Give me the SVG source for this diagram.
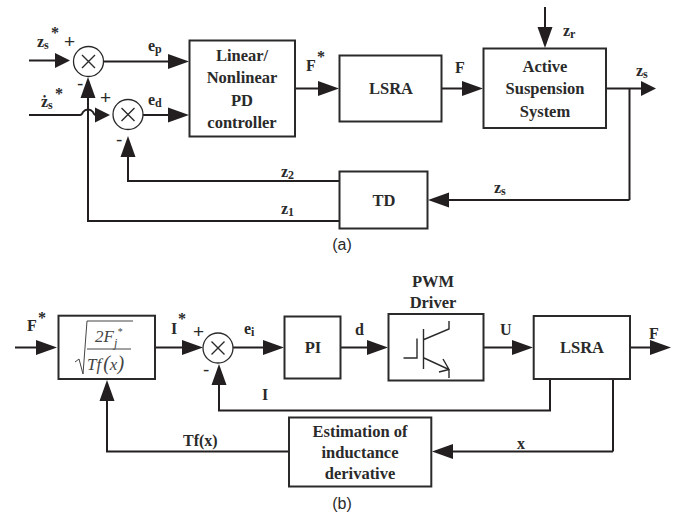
<svg xmlns="http://www.w3.org/2000/svg" width="684" height="521" viewBox="0 0 684 521">
<style>
.b{fill:#fff;stroke:#2a2a2a;stroke-width:2}
.s{fill:#fff;stroke:#2a2a2a;stroke-width:1.3}
.x{fill:none;stroke:#2a2a2a;stroke-width:1.4}
.c path{fill:none;stroke:#231f20;stroke-width:2}
.c path.a{marker-end:url(#big)}
.c path.m{marker-end:url(#small)}
text{font-family:"Liberation Serif","Times New Roman",serif;font-weight:bold;font-size:16px;fill:#2a2a2a}
.t{text-anchor:middle;font-size:16.5px}
.p{font-size:19px;font-weight:normal;font-family:"Liberation Sans",Arial,sans-serif}
.cap{font-family:"Liberation Sans",Arial,sans-serif;font-weight:normal;font-size:16px;text-anchor:middle}
.sb{font-size:12px}
.i{font-weight:normal;font-style:italic;font-size:17px;fill:#444}
</style>
<defs>
<marker id="big" markerUnits="userSpaceOnUse" markerWidth="22" markerHeight="16" refX="15" refY="8" orient="auto" viewBox="0 0 22 16"><path d="M0 .5L21 8L0 15.5Z" fill="#231f20"/></marker>
<marker id="small" markerUnits="userSpaceOnUse" markerWidth="16" markerHeight="16" refX="9" refY="8" orient="auto" viewBox="0 0 16 16"><path d="M0 .5L15 8L0 15.5Z" fill="#231f20"/></marker>
</defs>
<g id="connectors" class="c">
<path class="m" d="M29 60.5H64"/>
<path class="a" d="M103 61.5H183"/>
<path class="m" d="M29 115H80Q82 115 83 112Q85 109.500 88 109.500Q91 109.500 93 112Q94 115 96 115H104"/>
<path class="a" d="M143 115H183"/>
<path class="a" d="M295 88.500H333"/>
<path class="a" d="M441.500 88.500H477"/>
<path class="a" d="M545 7V42"/>
<path class="m" d="M606 88.500H650"/>
<path d="M629.500 88.500V200"/>
<path class="a" d="M629.500 200H434"/>
<path class="a" d="M339 181H128V142"/>
<path class="a" d="M339 221H88V83"/>
<path class="a" d="M15 347.500H51"/>
<path class="a" d="M155 347.500H197"/>
<path class="a" d="M233 347.500H278"/>
<path class="a" d="M340 347.500H382"/>
<path class="a" d="M484 347.500H527"/>
<path class="a" d="M630 347.500H665"/>
<path class="a" d="M550 379V410.500H219V370"/>
<path d="M613 379V451.500"/>
<path class="a" d="M613 451.500H438"/>
<path class="a" d="M289 451.500H107V386"/>
</g>
<g id="sum1"><circle class="s" cx="88.500" cy="61.500" r="15"/><path class="x" d="M82 55L95 68M95 55L82 68"/></g>
<g id="sum2"><circle class="s" cx="128" cy="114.500" r="15"/><path class="x" d="M121.500 108L134.500 121M134.500 108L121.500 121"/></g>
<g id="pd"><rect class="b" x="189.500" y="40.500" width="105.500" height="96"/>
<text class="t" x="242" y="61">Linear/</text><text class="t" x="242" y="83">Nonlinear</text><text class="t" x="242" y="106">PD</text><text class="t" x="242" y="128">controller</text></g>
<g id="lsra1"><rect class="b" x="339.500" y="55.500" width="102" height="66"/><text class="t" x="391" y="94">LSRA</text></g>
<g id="ass"><rect class="b" x="483.500" y="48.500" width="122.500" height="79.500"/>
<text class="t" x="545" y="72">Active</text><text class="t" x="545" y="94">Suspension</text><text class="t" x="545" y="117">System</text></g>
<g id="td"><rect class="b" x="339.500" y="171.500" width="88" height="57"/><text class="t" x="384" y="206">TD</text></g>
<g id="sqrt"><rect class="b" x="58.500" y="315.700" width="96.500" height="63.300"/>
<path fill="none" stroke="#444" stroke-width="1" d="M75 362L79 359L83 374L87 321H133"/>
<path fill="none" stroke="#444" stroke-width="1" d="M87 349H131"/>
<text class="i" x="95" y="342">2F<tspan font-size="12" dy="5">j</tspan><tspan font-size="10" dy="-12">*</tspan></text>
<text class="i" x="87" y="370">Tf<tspan dx="2" font-size="20">(</tspan><tspan>x</tspan><tspan font-size="20">)</tspan></text></g>
<g id="sum3"><circle class="s" cx="218" cy="348" r="15"/><path class="x" d="M211.500 341.500L224.500 354.500M224.500 341.500L211.500 354.500"/></g>
<g id="pi"><rect class="b" x="284.500" y="316.500" width="56" height="62"/><text class="t" x="313" y="353">PI</text></g>
<g id="pwm"><rect class="b" x="388.500" y="314" width="95" height="66.500"/>
<path class="x" fill="none" d="M423.500 329V369M417 338.500V358H403.500M424 339.500L449 329V321M424 358L449 369.500V378M439 372L449 369.500L443 359"/>
<text class="t" x="433" y="287">PWM</text><text class="t" x="433" y="308">Driver</text></g>
<g id="lsra2"><rect class="b" x="533.700" y="316" width="96.300" height="63"/><text class="t" x="582" y="353">LSRA</text></g>
<g id="est"><rect class="b" x="289" y="417.500" width="142.300" height="69"/>
<text class="t" x="360" y="437">Estimation of</text><text class="t" x="360" y="458">inductance</text><text class="t" x="360" y="479">derivative</text></g>
<g id="labels">
<text x="37" y="47" font-size="18">z<tspan class="sb" dy="2">s</tspan></text><text x="51" y="38" font-size="12">*</text>
<text class="p" x="64" y="48">+</text><text class="p" x="77" y="90" font-size="20">-</text>
<text x="41" y="107" font-size="18">ż<tspan class="sb" dy="2">s</tspan></text><text x="55" y="99" font-size="12">*</text>
<text class="p" x="100" y="104">+</text><text class="p" x="116" y="146" font-size="20">-</text>
<text x="148" y="51" font-size="17">e<tspan class="sb" font-size="13" dy="2">p</tspan></text>
<text x="148" y="105" font-size="17">e<tspan class="sb" font-size="13" dy="2">d</tspan></text>
<text x="306" y="71" font-size="18">F</text><text x="317" y="62" font-size="11">*</text>
<text x="455" y="73" font-size="18">F</text>
<text x="563" y="36" font-size="17">z<tspan class="sb" dy="2">r</tspan></text>
<text x="636" y="76" font-size="17">z<tspan class="sb" dy="2">s</tspan></text>
<text x="494" y="193" font-size="17">z<tspan class="sb" dy="2">s</tspan></text>
<text x="281" y="177" font-size="17">z<tspan class="sb" font-size="13" dy="2">2</tspan></text>
<text x="281" y="214" font-size="17">z<tspan class="sb" font-size="13" dy="2">1</tspan></text>
<text class="cap" x="342" y="250">(a)</text>
<text x="27" y="331" font-size="18">F</text><text x="38" y="323" font-size="11">*</text>
<text x="171" y="334" font-size="18">I</text><text x="178" y="324" font-size="11">*</text>
<text class="p" x="193" y="338">+</text><text class="p" x="203" y="376" font-size="20">-</text>
<text x="244" y="334" font-size="17">e<tspan class="sb" dy="2">i</tspan></text>
<text x="355" y="335" font-size="17">d</text>
<text x="500" y="335" font-size="17">U</text>
<text x="649" y="339" font-size="18">F</text>
<text x="262" y="400" font-size="17">I</text>
<text x="183" y="446" font-size="17">Tf(x)</text>
<text x="517" y="449" font-size="17">x</text>
<text class="cap" x="342" y="509">(b)</text>
</g>
</svg>
